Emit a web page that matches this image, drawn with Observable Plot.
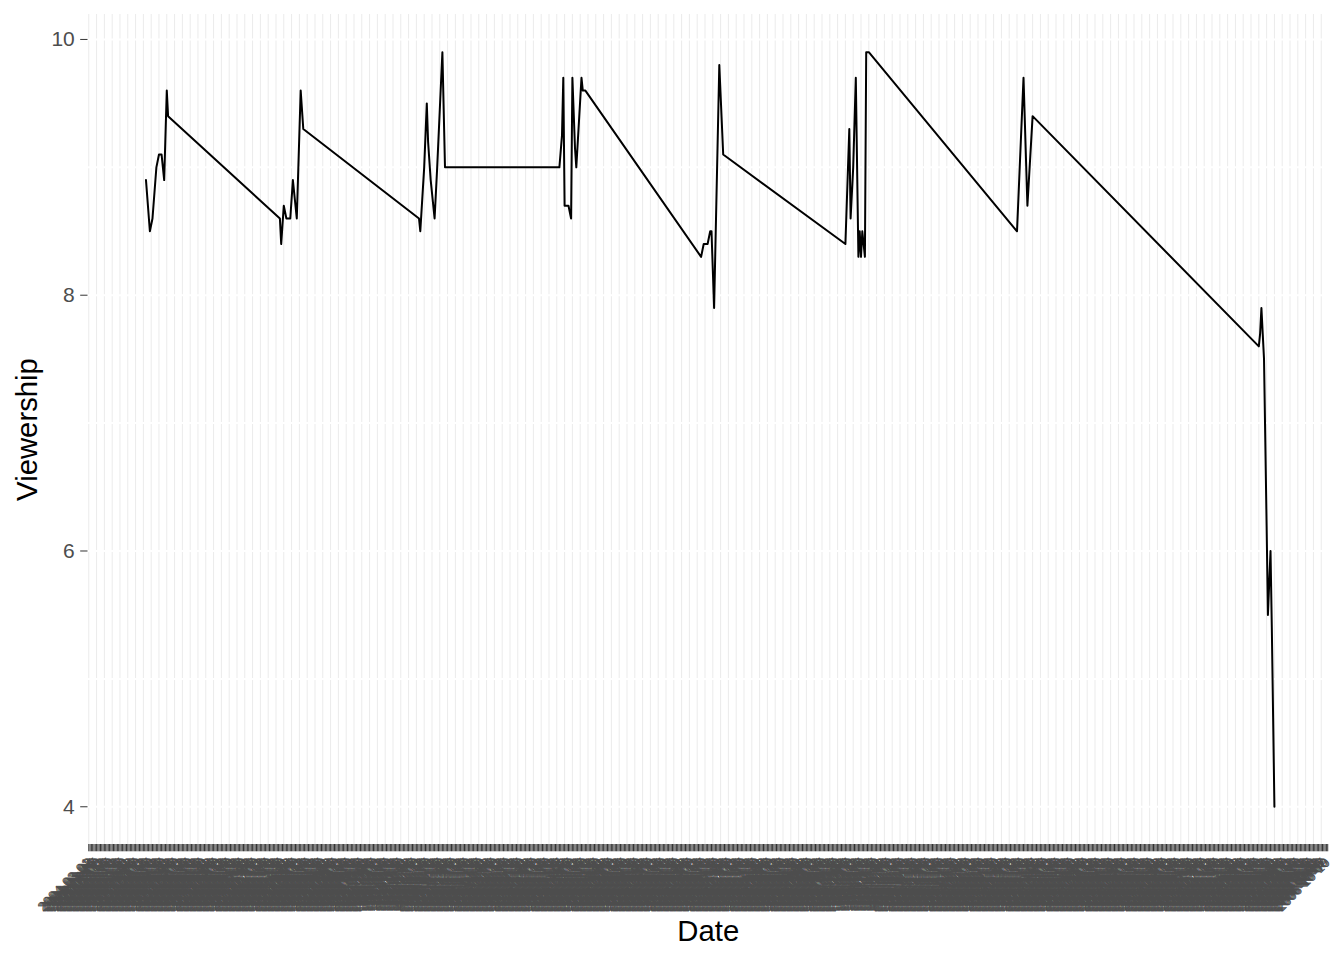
<!DOCTYPE html>
<html>
<head>
<meta charset="utf-8">
<script src="https://cdn.jsdelivr.net/npm/d3@7"></script>
<script src="https://cdn.jsdelivr.net/npm/@observablehq/plot@0.6"></script>
<style>
  html, body { margin: 0; padding: 0; background: #ffffff; }
</style>
</head>
<body>
<div id="chart"></div>
<script>
// x categories: one label per date level of the factor (unreadable, overlapping in the original)
const firstDate = "2004-03-01";
const dateCount = 954;
const dates = d3.utcDay
  .range(new Date(firstDate), d3.utcDay.offset(new Date(firstDate), dateCount))
  .map(d3.utcFormat("%Y-%m-%d"));

// observed points: position in the date levels and viewership (others are missing)
const obsIndex = [
  44, 47, 49, 52, 54, 56, 58, 60, 61,
  147, 148, 150, 152, 155, 157, 160, 163, 165,
  254, 255, 258, 260, 261, 263, 266, 268, 270, 272, 274,
  362, 364, 365, 366, 369, 371, 372, 374, 375, 379, 380, 382,
  471, 473, 476, 478, 479, 481, 485, 488,
  582, 585, 586, 588, 590, 592, 593, 594, 595, 597, 598, 600,
  714, 719, 722, 726,
  900, 901, 902, 903, 904, 905, 906, 907, 909, 910, 911, 912
];
const obsValue = [
  8.9, 8.5, 8.6, 9.0, 9.1, 9.1, 8.9, 9.6, 9.4,
  8.6, 8.4, 8.7, 8.6, 8.6, 8.9, 8.6, 9.6, 9.3,
  8.6, 8.5, 9.0, 9.5, 9.2, 8.9, 8.6, 9.0, 9.45, 9.9, 9.0,
  9.0, 9.25, 9.7, 8.7, 8.7, 8.6, 9.7, 9.15, 9.0, 9.7, 9.6, 9.6,
  8.3, 8.4, 8.4, 8.5, 8.5, 7.9, 9.8, 9.1,
  8.4, 9.3, 8.6, 9.0, 9.7, 8.3, 8.5, 8.3, 8.5, 8.3, 9.9, 9.9,
  8.5, 9.7, 8.7, 9.4,
  7.6, 7.7, 7.9, 7.7, 7.5, 6.85, 6.2, 5.5, 6.0, 5.4, 4.7, 4.0
];

const yTicks = [4, 6, 8, 10];
const yLines = [4, 5, 6, 7, 8, 9, 10];

const data = obsIndex.map((i, k) => ({ date: dates[i], value: obsValue[k] }));
const [vmin, vmax] = d3.extent(obsValue);
const pad = (vmax - vmin) * 0.05;

const chart = Plot.plot({
  width: 1344,
  height: 960,
  marginTop: 14,
  marginBottom: 116,
  marginLeft: 87.5,
  marginRight: 16,
  style: { fontFamily: "'Liberation Sans', Arial, sans-serif", background: "#ffffff", overflow: "visible" },
  x: { type: "point", domain: dates, padding: 0.6 },
  y: { domain: [vmin - pad, vmax + pad] },
  marks: [
    Plot.gridX(dates.filter((d, i) => i % 6 === 0), { stroke: "#ebebeb", strokeOpacity: 1, strokeWidth: 1 }),
    Plot.gridY(yLines, { stroke: "#ffffff", strokeOpacity: 1, strokeWidth: 2 }),
    Plot.line(data, { x: "date", y: "value", stroke: "#000000", strokeWidth: 2 }),
    Plot.axisY(yTicks, { tickSize: 7.3, tickPadding: 5.9, fontSize: 21, tickFormat: d3.format("d"), fill: "#4d4d4d", stroke: "#333333", label: null }),
    Plot.axisX(dates, { tickSize: 7.3, tickPadding: 8.5, tickRotate: -45, fontSize: 13.5, fill: "#4d4d4d", stroke: "#333333", label: null }),
    Plot.text(["Date"], { frameAnchor: "bottom", dy: 87, textAnchor: "middle", lineAnchor: "middle", fontSize: 29.3, fill: "#000000" }),
    Plot.text(["Viewership"], { frameAnchor: "left", dx: -60, rotate: -90, textAnchor: "middle", lineAnchor: "middle", fontSize: 29.3, fill: "#000000" })
  ]
});
document.getElementById("chart").appendChild(chart);
</script>
</body>
</html>
